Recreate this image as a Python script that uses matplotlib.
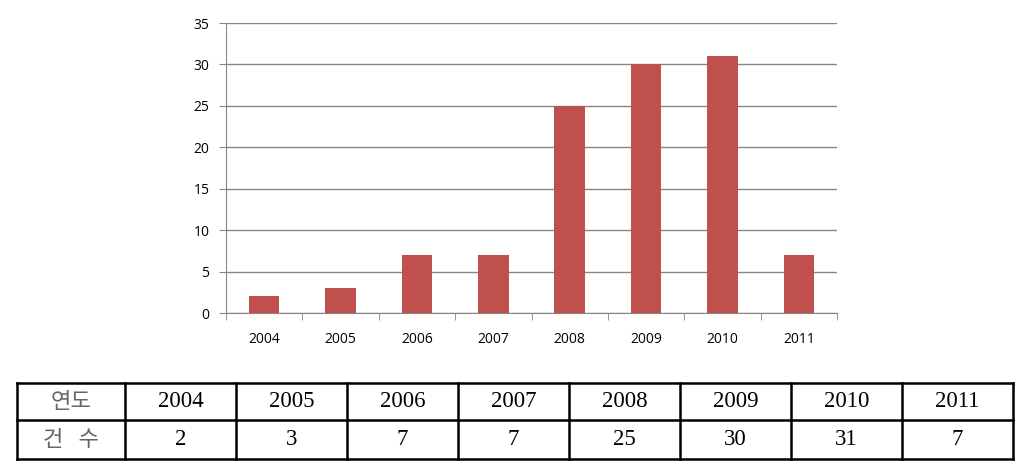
import matplotlib
matplotlib.use("Agg")
from matplotlib import pyplot as plt

years = ["2004", "2005", "2006", "2007", "2008", "2009", "2010", "2011"]
counts = [2, 3, 7, 7, 25, 30, 31, 7]
row_labels = ["연도", "건 수"]

BAR_COLOR = "#C0504D"
GRID_COLOR = "#868686"

W, H = 1033, 473
fig = plt.figure(figsize=(W / 100, H / 100), dpi=100)

# bar chart
ax = fig.add_axes([226 / W, 1 - 313 / H, (837 - 226) / W, (313 - 23) / H])
x = list(range(len(years)))
ax.bar(x, counts, width=0.4, color=BAR_COLOR, zorder=3)
ax.set_xlim(-0.5, len(years) - 0.5)
ax.set_ylim(0, 35)
ax.set_yticks(range(0, 36, 5))
ax.yaxis.grid(True, color=GRID_COLOR, linewidth=1)
ax.set_axisbelow(True)
ax.set_xticks(x)
ax.set_xticklabels(years)
ax.set_xticks([i - 0.5 for i in range(len(years) + 1)], minor=True)
ax.tick_params(axis="x", which="major", length=0, pad=14, labelsize=10)
ax.tick_params(axis="x", which="minor", length=5, color=GRID_COLOR)
ax.tick_params(axis="y", length=5, color=GRID_COLOR, labelsize=10, pad=7)
for lab in ax.get_xticklabels() + ax.get_yticklabels():
    lab.set_family("Open Sans")
for s in ["top", "right"]:
    ax.spines[s].set_visible(False)
for s in ["left", "bottom"]:
    ax.spines[s].set_color(GRID_COLOR)

# table below
tx = fig.add_axes([0, 0, 1, 1], facecolor="none")
tx.set_xlim(0, W)
tx.set_ylim(H, 0)
tx.axis("off")
left, first, right = 17, 125, 1013
top, mid, bottom = 383, 420, 459
cw = (right - first) / len(years)
edges = [left, first] + [first + cw * (i + 1) for i in range(len(years))]
for xe in edges:
    tx.plot([xe, xe], [top, bottom], color="black", lw=1.8)
for ye in [top, mid, bottom]:
    tx.plot([left, right], [ye, ye], color="black", lw=1.8)

cjk = ["Noto Sans CJK KR", "DejaVu Sans"]
tx.text((left + first) / 2, (top + mid) / 2, row_labels[0], ha="center",
        va="center", fontsize=16, family=cjk, color="#666666", weight="normal")
tx.text((left + first) / 2, (mid + bottom) / 2, row_labels[1].replace(" ", "   "),
        ha="center", va="center", fontsize=16, family=cjk, color="#666666",
        weight="normal")
for i, (yr, c) in enumerate(zip(years, counts)):
    cx = first + cw * (i + 0.5)
    tx.text(cx, (top + mid) / 2, yr, ha="center", va="center",
            fontsize=16.5, family="Liberation Serif")
    tx.text(cx, (mid + bottom) / 2, str(c), ha="center", va="center",
            fontsize=16.5, family="Liberation Serif")

fig.savefig("out.png", dpi=100)
